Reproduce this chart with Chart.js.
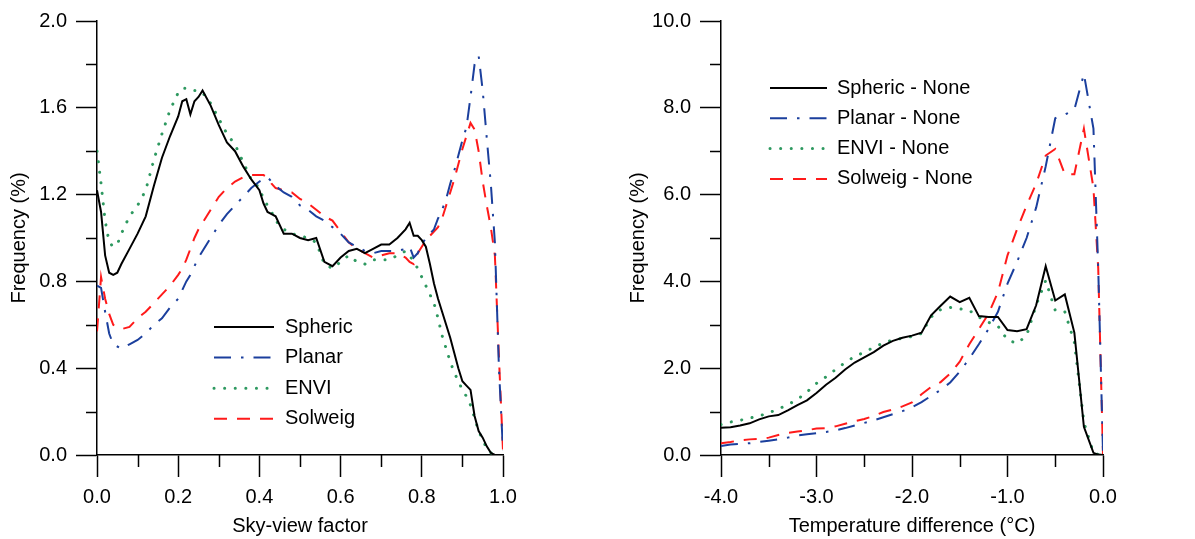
<!DOCTYPE html>
<html>
<head>
<meta charset="utf-8">
<script src="https://cdn.jsdelivr.net/npm/chart.js@4"></script>
<style>
  html, body { margin: 0; padding: 0; background: #fff; }
  #contenedor { position: relative; width: 1195px; height: 539px; }
  canvas { position: absolute; top: 0; }
  #grafico-svf { left: 0; }
  #grafico-temp { left: 600px; }
</style>
</head>
<body>
<div id="contenedor">
  <canvas id="grafico-svf" width="600" height="539"></canvas>
  <canvas id="grafico-temp" width="595" height="539"></canvas>
</div>
<script>
// ---- Panel izquierdo: sky-view factor ----
const svf = [0, 0.01, 0.02, 0.03, 0.04, 0.05, 0.06, 0.08, 0.10, 0.12, 0.14, 0.16, 0.18, 0.20,
  0.21, 0.22, 0.23, 0.24, 0.25, 0.26, 0.28, 0.30, 0.32, 0.34, 0.36, 0.38, 0.40,
  0.41, 0.42, 0.43, 0.44, 0.46, 0.48, 0.50, 0.52, 0.54, 0.56, 0.58, 0.60, 0.62, 0.64, 0.66,
  0.68, 0.70, 0.72, 0.74, 0.76, 0.77, 0.78, 0.79, 0.80, 0.81, 0.82, 0.83, 0.84, 0.85, 0.86,
  0.87, 0.88, 0.89, 0.90, 0.91, 0.92, 0.93, 0.94, 0.95, 0.96, 0.97, 0.98, 0.99, 1.00];

const svfSpheric = [1.22, 1.12, 0.92, 0.84, 0.83, 0.84, 0.88, 0.95, 1.02, 1.10, 1.24, 1.37, 1.47, 1.56,
  1.63, 1.64, 1.57, 1.63, 1.65, 1.68, 1.61, 1.52, 1.44, 1.40, 1.33, 1.27, 1.22,
  1.16, 1.12, 1.11, 1.10, 1.02, 1.02, 1.00, 0.99, 1.00, 0.89, 0.87, 0.91, 0.94, 0.95, 0.93,
  0.95, 0.97, 0.97, 1.00, 1.04, 1.07, 1.01, 1.01, 0.99, 0.96, 0.88, 0.79, 0.72, 0.66, 0.60,
  0.54, 0.47, 0.40, 0.34, 0.32, 0.30, 0.18, 0.11, 0.08, 0.04, 0.01, 0.00, null, null];

const svfPlanar = [0.78, 0.77, 0.66, 0.56, 0.51, 0.50, 0.49, 0.51, 0.53, 0.56, 0.60, 0.63, 0.68, 0.72,
  0.76, 0.80, 0.83, 0.87, 0.91, 0.94, 1.00, 1.06, 1.11, 1.15, 1.19, 1.23, 1.26,
  1.27, 1.28, 1.26, 1.24, 1.21, 1.19, 1.15, 1.13, 1.10, 1.08, 1.05, 1.02, 0.98, 0.96, 0.94,
  0.93, 0.94, 0.94, 0.94, 0.95, 0.96, 0.91, 0.93, 0.97, 1.00, 1.02, 1.04, 1.09, 1.13, 1.18,
  1.25, 1.31, 1.38, 1.45, 1.51, 1.65, 1.80, 1.84, 1.68, 1.46, 1.25, 0.98, 0.40, 0.02];

const svfEnvi = [1.40, 1.25, 1.08, 0.98, 0.96, 0.97, 1.02, 1.10, 1.15, 1.22, 1.36, 1.48, 1.59, 1.67,
  1.69, 1.69, 1.68, 1.68, 1.68, 1.67, 1.62, 1.55, 1.48, 1.43, 1.35, 1.27, 1.23,
  1.18, 1.15, 1.12, 1.08, 1.04, 1.02, 1.01, 1.00, 0.98, 0.88, 0.86, 0.89, 0.92, 0.89, 0.88,
  0.90, 0.90, 0.90, 0.92, 0.94, 0.92, 0.89, 0.86, 0.82, 0.78, 0.74, 0.70, 0.63, 0.55, 0.49,
  0.43, 0.38, 0.34, 0.30, 0.27, 0.23, 0.17, 0.11, 0.07, 0.03, 0.01, 0.00, null, null];

const svfSolweig = [0.57, 0.82, 0.72, 0.65, 0.60, 0.59, 0.58, 0.59, 0.63, 0.66, 0.70, 0.74, 0.78, 0.83,
  0.86, 0.90, 0.95, 1.00, 1.04, 1.07, 1.13, 1.19, 1.23, 1.26, 1.28, 1.29, 1.29,
  1.29, 1.28, 1.25, 1.23, 1.22, 1.21, 1.18, 1.16, 1.13, 1.10, 1.08, 1.03, 0.98, 0.95, 0.93,
  0.91, 0.92, 0.93, 0.93, 0.91, 0.89, 0.88, 0.93, 0.96, 0.99, 1.01, 1.03, 1.05, 1.09, 1.15,
  1.21, 1.27, 1.34, 1.41, 1.47, 1.53, 1.50, 1.40, 1.26, 1.15, 1.05, 0.92, 0.45, 0.02];

const svfMenoresX = [0.1, 0.3, 0.5, 0.7, 0.9];
const svfMenoresY = [0.2, 0.6, 1.0, 1.4, 1.8];

// ---- Panel derecho: diferencia de temperatura ----
const dT = [-4.0, -3.9, -3.8, -3.7, -3.6, -3.5, -3.4, -3.3, -3.2, -3.1,
  -3.0, -2.9, -2.8, -2.7, -2.6, -2.5, -2.4, -2.3, -2.2, -2.1,
  -2.0, -1.9, -1.8, -1.7, -1.6, -1.5, -1.4, -1.3, -1.2, -1.1,
  -1.0, -0.9, -0.8, -0.7, -0.6, -0.5, -0.4, -0.3, -0.2, -0.1, -0.05, 0.0];

const dtSpheric = [0.63, 0.64, 0.68, 0.73, 0.82, 0.89, 0.92, 1.03, 1.15, 1.26,
  1.43, 1.62, 1.78, 1.97, 2.13, 2.25, 2.37, 2.52, 2.63, 2.70,
  2.75, 2.82, 3.22, 3.44, 3.65, 3.52, 3.62, 3.20, 3.18, 3.18,
  2.88, 2.85, 2.90, 3.45, 4.35, 3.56, 3.70, 2.82, 0.65, 0.05, 0.01, 0.00];

const dtPlanar = [0.21, 0.24, 0.26, 0.27, 0.30, 0.33, 0.36, 0.40, 0.45, 0.48,
  0.50, 0.53, 0.57, 0.62, 0.68, 0.74, 0.80, 0.87, 0.94, 1.01,
  1.10, 1.22, 1.36, 1.50, 1.67, 1.92, 2.22, 2.55, 2.90, 3.30,
  3.95, 4.45, 5.00, 5.70, 6.65, 7.76, 7.84, 7.96, 8.78, 7.52, 4.30, 0.05];

const dtEnvi = [0.70, 0.76, 0.80, 0.85, 0.90, 0.97, 1.06, 1.16, 1.28, 1.45,
  1.65, 1.80, 1.97, 2.13, 2.27, 2.37, 2.48, 2.58, 2.65, 2.69,
  2.73, 2.80, 3.18, 3.35, 3.40, 3.37, 3.33, 3.18, 3.06, 2.97,
  2.65, 2.57, 2.75, 3.45, 4.02, 3.33, 3.30, 2.60, 0.75, 0.05, 0.01, 0.00];

const dtSolweig = [0.27, 0.30, 0.34, 0.36, 0.37, 0.40, 0.46, 0.51, 0.54, 0.57,
  0.61, 0.62, 0.66, 0.72, 0.78, 0.83, 0.90, 0.99, 1.05, 1.12,
  1.21, 1.40, 1.57, 1.68, 1.88, 2.15, 2.55, 2.90, 3.25, 3.75,
  4.60, 5.20, 5.75, 6.25, 6.90, 7.05, 6.47, 6.47, 7.52, 6.15, 4.30, 0.02];

const dtMenoresX = [-3.5, -2.5, -1.5, -0.5];
const dtMenoresY = [1, 3, 5, 7, 9];

const FUENTE = '"Liberation Sans", Arial, sans-serif';
const TAM = 20;
Chart.defaults.font.family = FUENTE;
Chart.defaults.color = '#000';

// Estilos de cada serie
const estilos = {
  spheric: { borderColor: '#000000', borderWidth: 2 },
  planar: { borderColor: '#1b3f9d', borderWidth: 2, borderDash: [17, 10, 2.5, 10] },
  envi: { borderColor: '#2e9960', borderWidth: 3, borderDash: [0.1, 10.5], borderCapStyle: 'round' },
  solweig: { borderColor: '#ff1a1a', borderWidth: 2, borderDash: [13, 10] }
};

function puntos(xs, ys) {
  return xs.map((x, i) => ({ x: x, y: ys[i] }));
}

function serie(label, xs, ys, estilo) {
  return Object.assign({
    label: label,
    data: puntos(xs, ys),
    pointRadius: 0,
    tension: 0,
    fill: false,
    spanGaps: false
  }, estilo);
}

// Leyenda dibujada dentro del área del gráfico
const leyendaPlugin = {
  id: 'leyenda',
  afterDatasetsDraw(chart, args, opts) {
    const ctx = chart.ctx;
    ctx.save();
    chart.data.datasets.forEach((ds, i) => {
      const y = opts.y + i * opts.paso;
      ctx.beginPath();
      ctx.strokeStyle = ds.borderColor;
      ctx.lineWidth = ds.borderWidth;
      ctx.lineCap = ds.borderCapStyle || 'butt';
      ctx.setLineDash(ds.borderDash || []);
      ctx.moveTo(opts.x, y);
      ctx.lineTo(opts.x + opts.largo, y);
      ctx.stroke();
      ctx.setLineDash([]);
      ctx.fillStyle = '#000';
      ctx.font = opts.font;
      ctx.textBaseline = 'middle';
      ctx.textAlign = 'left';
      ctx.fillText(ds.label, opts.x + opts.largo + opts.sep, y);
    });
    ctx.restore();
  }
};

// Marcas menores de los ejes
const marcasMenores = {
  id: 'marcasMenores',
  afterDraw(chart, args, opts) {
    const { ctx, chartArea, scales } = chart;
    ctx.save();
    ctx.strokeStyle = '#000';
    ctx.lineWidth = 1.5;
    ctx.beginPath();
    opts.x.forEach(v => {
      const px = Math.round(scales.x.getPixelForValue(v)) + 0.5;
      ctx.moveTo(px, chartArea.bottom);
      ctx.lineTo(px, chartArea.bottom + opts.largoX);
    });
    opts.y.forEach(v => {
      const py = Math.round(scales.y.getPixelForValue(v)) + 0.5;
      ctx.moveTo(chartArea.left, py);
      ctx.lineTo(chartArea.left - opts.largoY, py);
    });
    ctx.stroke();
    ctx.restore();
  }
};

function ejeX(min, max, paso, titulo) {
  return {
    type: 'linear', min: min, max: max,
    ticks: { stepSize: paso, callback: v => Number(v).toFixed(1), color: '#000',
      font: { size: TAM }, padding: 8, maxRotation: 0, autoSkip: false },
    grid: { drawOnChartArea: false, drawTicks: true, tickLength: 22, tickColor: '#000', tickWidth: 1.5 },
    border: { display: true, color: '#000', width: 1.5 },
    title: { display: true, text: titulo, color: '#000', font: { size: TAM }, padding: { top: 0, bottom: 1 } },
    afterFit: s => { s.height = 84; }
  };
}

function ejeY(min, max, paso, ancho, padTitulo) {
  return {
    type: 'linear', min: min, max: max,
    ticks: { stepSize: paso, callback: v => Number(v).toFixed(1), color: '#000',
      font: { size: TAM }, padding: 9 },
    grid: { drawOnChartArea: false, drawTicks: true, tickLength: 21, tickColor: '#000', tickWidth: 1.5 },
    border: { display: true, color: '#000', width: 1.5 },
    title: { display: true, text: 'Frequency (%)', color: '#000', font: { size: TAM }, padding: { top: padTitulo, bottom: 0 } },
    afterFit: s => { s.width = ancho; }
  };
}

function crearGrafico(id, datasets, escalas, padDerecha, leyenda, menores) {
  const canvas = document.getElementById(id);
  return new Chart(canvas, {
    type: 'line',
    data: { datasets: datasets },
    options: {
      responsive: false,
      animation: false,
      layout: { padding: { top: 19, right: padDerecha, bottom: 0, left: 0 } },
      scales: escalas,
      plugins: {
        legend: { display: false },
        tooltip: { enabled: false },
        leyenda: leyenda,
        marcasMenores: menores
      }
    },
    plugins: [leyendaPlugin, marcasMenores]
  });
}

crearGrafico('grafico-svf', [
  serie('Spheric', svf, svfSpheric, estilos.spheric),
  serie('Planar', svf, svfPlanar, estilos.planar),
  serie('ENVI', svf, svfEnvi, estilos.envi),
  serie('Solweig', svf, svfSolweig, estilos.solweig)
], {
  x: ejeX(0, 1, 0.2, 'Sky-view factor'),
  y: ejeY(0, 2, 0.4, 97, 7)
}, 97,
{ x: 214, y: 327, paso: 30.6, largo: 60, sep: 11, font: TAM + 'px ' + FUENTE },
{ x: svfMenoresX, y: svfMenoresY, largoX: 12, largoY: 11 });

crearGrafico('grafico-temp', [
  serie('Spheric - None', dT, dtSpheric, estilos.spheric),
  serie('Planar - None', dT, dtPlanar, estilos.planar),
  serie('ENVI - None', dT, dtEnvi, estilos.envi),
  serie('Solweig - None', dT, dtSolweig, estilos.solweig)
], {
  x: ejeX(-4, 0, 1, 'Temperature difference (°C)'),
  y: ejeY(0, 10, 2, 121, 26)
}, 92,
{ x: 170, y: 88, paso: 30.3, largo: 57, sep: 10, font: TAM + 'px ' + FUENTE },
{ x: dtMenoresX, y: dtMenoresY, largoX: 12, largoY: 11 });
</script>
</body>
</html>
